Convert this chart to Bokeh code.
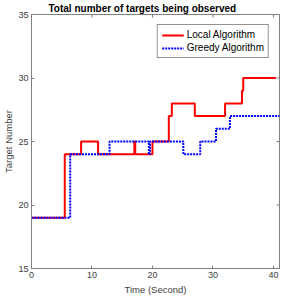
import math
from bokeh.plotting import figure
from bokeh.models import Range1d, FixedTicker, Legend, LegendItem
from bokeh.embed import file_html
from bokeh.resources import INLINE

# Data
local_t = [0, 5.5, 8.2, 11.0, 17.0, 17.15, 20.0, 22.7, 23.2, 27.0, 32.0, 34.8, 35.0, 40.4]
local_n = [19, 24, 25, 24, 25, 24, 25, 27, 28, 27, 28, 29, 30, 30]
greedy_t = [0, 6.4, 12.9, 19.4, 19.6, 25.1, 27.9, 30.5, 32.8, 41.0]
greedy_n = [19, 24, 25, 24, 25, 24, 25, 26, 27, 27]
x_ticks = [0, 10, 20, 30, 40]
y_ticks = [15, 20, 25, 30, 35]
x_lim = (0, 41)
y_lim = (15, 35)

FONT = "Liberation Sans"
AX = "#808080"
LAB = "#404040"

p = figure(width=281, height=297, output_backend="svg", toolbar_location=None,
           x_range=Range1d(*x_lim), y_range=Range1d(*y_lim),
           min_border_left=0, min_border_right=2, min_border_top=0, min_border_bottom=0,
           title="Total number of targets being observed")
p.title.text_font = FONT
p.title.text_font_size = "10px"
p.title.text_font_style = "bold"
p.title.text_color = "black"
p.title.align = "left"
p.title.offset = 17
p.title.standoff = 1

p.xgrid.visible = False
p.ygrid.visible = False
p.outline_line_color = AX
p.background_fill_color = "white"
p.border_fill_color = "white"

p.xaxis.ticker = FixedTicker(ticks=x_ticks)
p.yaxis.ticker = FixedTicker(ticks=y_ticks)
p.xaxis.axis_label = "Time (Second)"
p.yaxis.axis_label = "Target Number"
for ax in p.xaxis + p.yaxis:
    ax.axis_line_color = AX
    ax.major_tick_line_color = AX
    ax.minor_tick_line_color = None
    ax.major_tick_in = 3
    ax.major_tick_out = 0
    ax.major_label_text_font = FONT
    ax.major_label_text_font_size = "9px"
    ax.major_label_text_color = LAB
    ax.axis_label_text_font = FONT
    ax.axis_label_text_font_size = "9.5px"
    ax.axis_label_text_font_style = "normal"
    ax.axis_label_text_color = LAB
p.xaxis.major_label_standoff = 3
p.xaxis.axis_label_standoff = 3
p.yaxis.major_label_standoff = 3
p.yaxis.axis_label_standoff = 1

# inward ticks on the top and right edges of the box
p.ray(x=x_ticks, y=[y_lim[1]] * len(x_ticks), length=3, length_units="screen",
      angle=-math.pi / 2, line_color=AX, line_width=1)
p.ray(x=[x_lim[1]] * len(y_ticks), y=y_ticks, length=3, length_units="screen",
      angle=math.pi, line_color=AX, line_width=1)

r1 = p.step(local_t, local_n, mode="after", line_color="#ff0000", line_width=2)
r2 = p.step(greedy_t, greedy_n, mode="after", line_color="#0000ff", line_width=2,
            line_dash="2 1")

legend = Legend(items=[LegendItem(label="Local Algorithm", renderers=[r1]),
                       LegendItem(label="Greedy Algorithm", renderers=[r2])],
                location="top_right")
legend.label_text_font = FONT
legend.label_text_font_size = "10px"
legend.label_text_color = "black"
legend.border_line_color = "#262626"
legend.border_line_width = 1
legend.glyph_width = 22
legend.glyph_height = 10
legend.label_height = 10
legend.spacing = 2
legend.padding = 4
legend.margin = 10
legend.label_standoff = 3
legend.background_fill_alpha = 1
p.add_layout(legend)

open("out.html", "w").write(file_html(p, INLINE))
